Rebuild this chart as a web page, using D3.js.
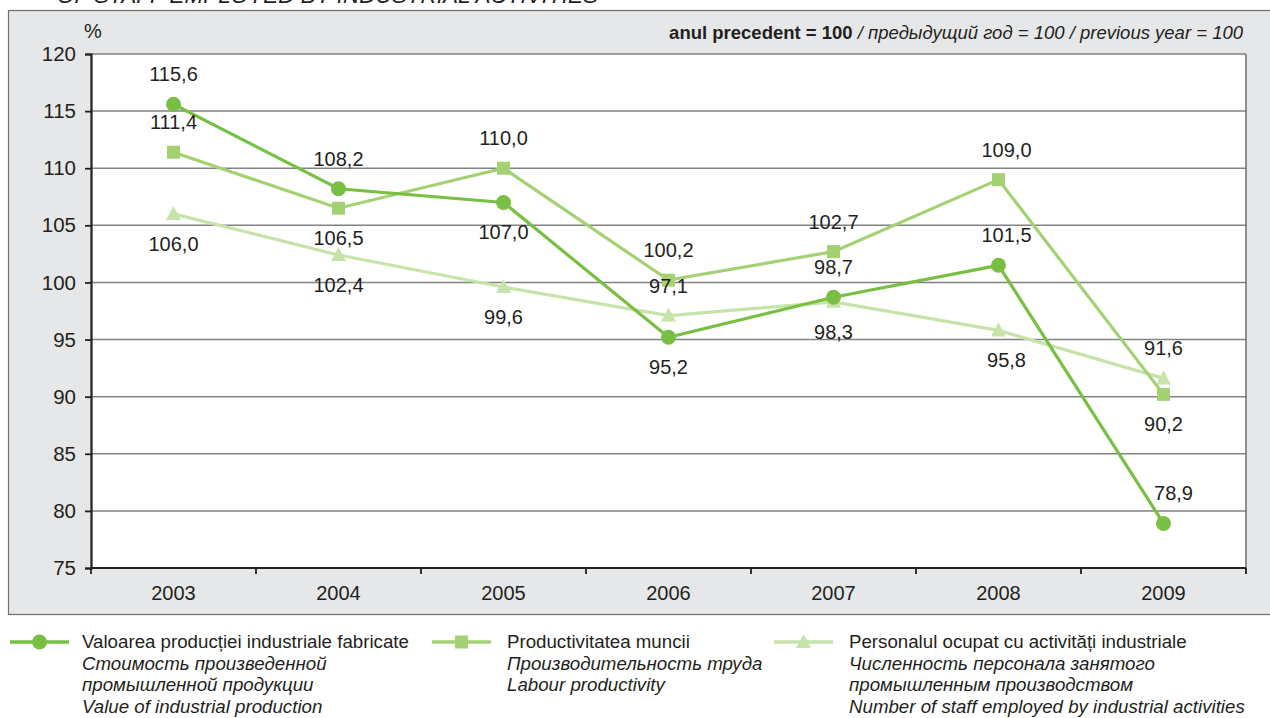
<!DOCTYPE html>
<html><head><meta charset="utf-8">
<script src="https://cdn.jsdelivr.net/npm/d3@7"></script>
<style>body{margin:0;background:#fff;}svg{display:block;font-family:"Liberation Sans",Arial,sans-serif;}</style>
</head><body>
<svg id="c" width="1270" height="718"></svg>
<script>
const years = ["2003","2004","2005","2006","2007","2008","2009"];
const production = [115.6,108.2,107.0,95.2,98.7,101.5,78.9];
const productivity = [111.4,106.5,110.0,100.2,102.7,109.0,90.2];
const staff = [106.0,102.4,99.6,97.1,98.3,95.8,91.6];
const productionPos = ["above","above","below","below","above","above","above"];
const productivityPos = ["above","below","above","above","above","above","below"];
const staffPos = ["below","below","below","above","below","below","above"];
const yTicks = [75,80,85,90,95,100,105,110,115,120];
const legendProduction = ["Valoarea producției industriale fabricate","Стоимость произведенной","промышленной продукции","Value of industrial production"];
const legendProductivity = ["Productivitatea muncii","Производительность труда","Labour productivity"];
const legendStaff = ["Personalul ocupat cu activități industriale","Численность персонала занятого","промышленным производством","Number of staff employed by industrial activities"];

const svg = d3.select("#c");
const L=91,R=1246,T=54,B=568;
svg.append("rect").attr("x",8.5).attr("y",10.5).attr("width",1275).attr("height",604).attr("fill","#e6e7e8").attr("stroke","#6d6e70").attr("stroke-width",1.2);
svg.append("text").attr("x",57).attr("y",3).attr("font-size",22.5).attr("font-style","italic").attr("fill","#231f20").text("OF STAFF EMPLOYED BY INDUSTRIAL ACTIVITIES");
svg.append("rect").attr("x",L).attr("y",T).attr("width",R-L).attr("height",B-T).attr("fill","#fff");

const x = d3.scaleBand().domain(years).range([L,R]);
const y = d3.scaleLinear().domain([75,120]).range([B,T]);

svg.append("g").selectAll("line").data(yTicks.filter(d=>d>75)).join("line")
  .attr("x1",L).attr("x2",R).attr("y1",d=>y(d)).attr("y2",d=>y(d)).attr("stroke","#808285").attr("stroke-width",1.5);
svg.append("line").attr("x1",R).attr("x2",R).attr("y1",T).attr("y2",B+6).attr("stroke","#58595b").attr("stroke-width",1.3);

const ya = svg.append("g").attr("transform",`translate(${L},0)`).call(d3.axisLeft(y).tickValues(yTicks).tickSize(6).tickPadding(9).tickFormat(d3.format("d")));
ya.select(".domain").attr("stroke","#231f20").attr("stroke-width",2.2);
ya.selectAll(".tick line").attr("stroke","#231f20").attr("stroke-width",1.8);
ya.selectAll("text").attr("font-size",20.5).attr("fill","#231f20").attr("font-family","Liberation Sans, Arial");

const xa = svg.append("g").attr("transform",`translate(0,${B})`).call(d3.axisBottom(x).tickSize(0).tickPadding(18));
xa.select(".domain").remove();
xa.selectAll("text").attr("font-size",20).attr("fill","#231f20").attr("font-family","Liberation Sans, Arial");
svg.append("line").attr("x1",L).attr("x2",R).attr("y1",B).attr("y2",B).attr("stroke","#231f20").attr("stroke-width",2.2);
svg.append("g").selectAll("line").data(d3.range(years.length+1)).join("line")
  .attr("x1",i=>L+i*x.step()).attr("x2",i=>L+i*x.step()).attr("y1",B).attr("y2",B+6).attr("stroke","#231f20").attr("stroke-width",1.8);

svg.append("text").attr("x",84).attr("y",38).attr("font-size",20).attr("fill","#231f20").text("%");
const sub = svg.append("text").attr("x",1243).attr("y",39).attr("text-anchor","end").attr("font-size",18.5).attr("fill","#231f20");
sub.append("tspan").attr("font-weight","bold").text("anul precedent = 100");
sub.append("tspan").attr("font-style","italic").text(" / предыдущий год = 100 / previous year = 100");

const cx = d => x(d)+x.bandwidth()/2;
const series = [
  {vals:staff,pos:staffPos,color:"#c6e3a9",marker:"tri"},
  {vals:productivity,pos:productivityPos,color:"#a4d273",marker:"sq"},
  {vals:production,pos:productionPos,color:"#78bf43",marker:"circ"}
];
function marker(g,type,color,px,py){
  if(type==="circ") g.append("circle").attr("cx",px).attr("cy",py).attr("r",7.5).attr("fill",color);
  else if(type==="sq") g.append("rect").attr("x",px-6.5).attr("y",py-6.5).attr("width",13).attr("height",13).attr("fill",color);
  else g.append("path").attr("d",`M${px},${py-8}L${px+7.5},${py+6}L${px-7.5},${py+6}Z`).attr("fill",color);
}
const line = d3.line().x((d,i)=>cx(years[i])).y(d=>y(d));
series.forEach(s=>{
  const g = svg.append("g");
  g.append("path").attr("d",line(s.vals)).attr("fill","none").attr("stroke",s.color).attr("stroke-width",3.2);
  s.vals.forEach((v,i)=>marker(g,s.marker,s.color,cx(years[i]),y(v)));
});
const fmt = v => d3.format(".1f")(v).replace(".",",");
series.forEach(s=>{
  svg.append("g").selectAll("text").data(s.vals).join("text")
    .attr("x",(d,i)=>cx(years[i]) + (i===5?8:0) + (i===6&&s.marker==="circ"?10:0))
    .attr("y",(d,i)=>y(d)+(s.pos[i]==="above"?-30:30)+7)
    .attr("text-anchor","middle").attr("font-size",20).attr("fill","#231f20").text(fmt);
});

const legends = [
  {lines:legendProduction,color:"#78bf43",marker:"circ",x0:10,tx:82},
  {lines:legendProductivity,color:"#a4d273",marker:"sq",x0:432,tx:507},
  {lines:legendStaff,color:"#c6e3a9",marker:"tri",x0:774,tx:849}
];
legends.forEach(l=>{
  const g = svg.append("g");
  g.append("line").attr("x1",l.x0).attr("x2",l.x0+59).attr("y1",642).attr("y2",642).attr("stroke",l.color).attr("stroke-width",3.5);
  marker(g,l.marker,l.color,l.x0+29.5,642);
  l.lines.forEach((t,i)=>{
    g.append("text").attr("x",l.tx).attr("y",648+i*21.5).attr("font-size",18.7).attr("fill","#231f20")
      .attr("font-style",i===0?"normal":"italic").text(t);
  });
});
</script>
</body></html>
